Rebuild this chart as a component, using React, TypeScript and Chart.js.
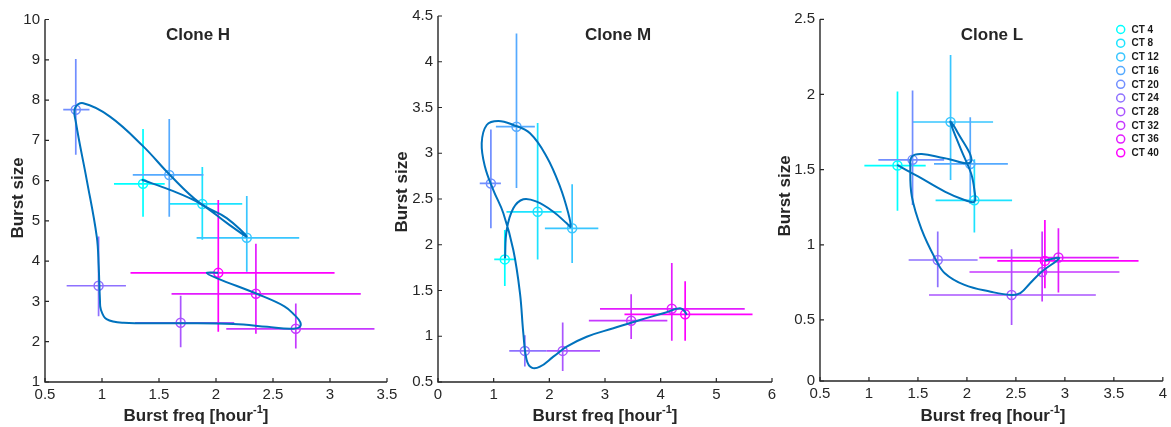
import React, { useEffect, useRef } from "react";
import { Chart, registerables } from "chart.js";

Chart.register(...registerables);

const FONT = "'Liberation Sans', Arial, Helvetica, sans-serif";
const INK = "#262626";
const CURVE_COLOR = "#0072bd";
const W = 1171;
const H = 427;

// ---------- shared ----------
const ctLabels = ["CT 4", "CT 8", "CT 12", "CT 16", "CT 20", "CT 24", "CT 28", "CT 32", "CT 36", "CT 40"];
const ctColors = ["#00ffff", "#1ce3ff", "#39c6ff", "#55aaff", "#718eff", "#8e71ff", "#aa55ff", "#c639ff", "#e31cff", "#ff00ff"];

// ---------- Clone H ----------
const hFreq = [1.36, 1.88, 2.27, 1.59, 0.77, 0.97, 1.69, 2.70, 2.35, 2.02];
const hSize = [5.92, 5.42, 4.58, 6.14, 7.76, 3.39, 2.47, 2.32, 3.19, 3.71];
const hFreqLo = [1.105, 1.59, 1.83, 1.27, 0.66, 0.69, 1.29, 2.09, 1.61, 1.25];
const hFreqHi = [1.55, 2.23, 2.73, 1.89, 0.89, 1.21, 2.16, 3.39, 3.27, 3.04];
const hSizeLo = [5.10, 4.53, 3.74, 5.10, 6.64, 2.63, 1.86, 1.83, 2.20, 2.25];
const hSizeHi = [7.28, 6.34, 5.62, 7.53, 9.02, 4.61, 3.14, 2.95, 4.43, 5.52];
const hCurveX = [1.348, 1.596, 1.860, 2.094, 2.269, 2.094, 1.860, 1.596, 1.362, 1.070, 0.836, 0.763, 0.772, 0.866, 0.954, 0.971, 0.982, 0.99, 1.04, 1.19, 1.684, 2.152, 2.45, 2.65, 2.73, 2.74, 2.69, 2.60, 2.357, 2.006, 1.918, 2.02];
const hCurveY = [6.02, 5.77, 5.43, 4.95, 4.61, 5.07, 5.44, 6.14, 6.85, 7.59, 7.92, 7.80, 7.43, 6.02, 4.61, 3.87, 3.04, 2.80, 2.56, 2.47, 2.46, 2.44, 2.37, 2.32, 2.36, 2.48, 2.66, 2.88, 3.19, 3.58, 3.71, 3.71];
const hXTicks = [0.5, 1, 1.5, 2, 2.5, 3, 3.5];
const hXTickLabels = ["0.5", "1", "1.5", "2", "2.5", "3", "3.5"];
const hYTicks = [1, 2, 3, 4, 5, 6, 7, 8, 9, 10];
const hYTickLabels = ["1", "2", "3", "4", "5", "6", "7", "8", "9", "10"];

// ---------- Clone M ----------
const mFreq = [1.20, 1.79, 2.41, 1.41, 0.95, 1.56, 2.24, 3.47, 4.20, 4.44];
const mSize = [1.84, 2.36, 2.18, 3.29, 2.67, 0.84, 0.84, 1.17, 1.30, 1.24];
const mFreqLo = [1.01, 1.23, 1.92, 1.04, 0.75, 1.28, 1.95, 2.71, 2.91, 3.35];
const mFreqHi = [1.40, 2.22, 2.88, 1.74, 1.13, 1.95, 2.91, 4.12, 5.51, 5.65];
const mSizeLo = [1.55, 1.84, 1.80, 2.62, 2.18, 0.67, 0.62, 0.97, 0.95, 0.95];
const mSizeHi = [2.16, 3.33, 2.66, 4.31, 3.26, 1.01, 1.15, 1.46, 1.80, 1.60];
const mCurveX = [1.204, 1.234, 1.353, 1.533, 1.772, 2.072, 2.312, 2.383, 2.341, 2.192, 1.952, 1.653, 1.353, 1.084, 0.875, 0.785, 0.844, 0.994, 1.174, 1.353, 1.473, 1.533, 1.593, 1.683, 1.832, 2.072, 2.312, 2.671, 3.150, 3.629, 4.048, 4.347, 4.437, 4.467];
const mCurveY = [1.852, 2.161, 2.398, 2.497, 2.471, 2.361, 2.234, 2.197, 2.344, 2.635, 2.962, 3.218, 3.309, 3.352, 3.309, 3.109, 2.853, 2.598, 2.344, 1.943, 1.469, 1.032, 0.740, 0.656, 0.667, 0.777, 0.886, 0.995, 1.087, 1.178, 1.251, 1.305, 1.268, 1.232];
const mXTicks = [0, 1, 2, 3, 4, 5, 6];
const mXTickLabels = ["0", "1", "2", "3", "4", "5", "6"];
const mYTicks = [0.5, 1, 1.5, 2, 2.5, 3, 3.5, 4, 4.5];
const mYTickLabels = ["0.5", "1", "1.5", "2", "2.5", "3", "3.5", "4", "4.5"];

// ---------- Clone L ----------
const lFreq = [1.291, 2.076, 1.833, 2.034, 1.445, 1.702, 2.456, 2.768, 2.934, 2.796];
const lSize = [1.527, 1.296, 1.817, 1.538, 1.565, 0.899, 0.666, 0.819, 0.915, 0.893];
const lFreqLo = [0.953, 1.680, 1.445, 1.664, 1.096, 1.405, 1.613, 2.026, 2.126, 2.310];
const lFreqHi = [1.579, 2.461, 2.267, 2.418, 1.767, 2.109, 3.316, 3.557, 3.551, 3.752];
const lSizeLo = [1.227, 1.081, 1.431, 1.272, 1.265, 0.717, 0.467, 0.622, 0.682, 0.711];
const lSizeHi = [2.019, 1.569, 2.263, 1.849, 2.026, 1.088, 0.970, 1.088, 1.110, 1.165];
const lCurveX = [1.288, 1.506, 1.774, 1.975, 2.076, 2.076, 2.042, 1.941, 1.831, 1.891, 2.042, 1.774, 1.539, 1.438, 1.422, 1.438, 1.539, 1.674, 1.774, 1.975, 2.243, 2.454, 2.545, 2.645, 2.763, 2.941, 2.796];
const lCurveY = [1.531, 1.453, 1.354, 1.298, 1.287, 1.365, 1.476, 1.631, 1.817, 1.764, 1.553, 1.576, 1.604, 1.587, 1.520, 1.320, 1.099, 0.911, 0.811, 0.733, 0.688, 0.666, 0.678, 0.744, 0.821, 0.911, 0.895];
const lXTicks = [0.5, 1, 1.5, 2, 2.5, 3, 3.5, 4];
const lXTickLabels = ["0.5", "1", "1.5", "2", "2.5", "3", "3.5", "4"];
const lYTicks = [0.094, 0.5, 1, 1.5, 2, 2.5];
const lYTickLabels = ["0", "0.5", "1", "1.5", "2", "2.5"];

const X_TITLE = "Burst freq [hour";
const X_TITLE_SUP = "-1";
const X_TITLE_END = "]";
const Y_TITLE = "Burst size";

type Panel = {
  title: string;
  freq: number[]; size: number[];
  freqLo: number[]; freqHi: number[];
  sizeLo: number[]; sizeHi: number[];
  curveX: number[]; curveY: number[];
  xTicks: number[]; xTickLabels: string[];
  yTicks: number[]; yTickLabels: string[];
  area: { l: number; r: number; t: number; b: number };
  titlePos: [number, number];
  xTitleX: number;
  yTitlePos: [number, number];
  legend: boolean;
};

const panels: Panel[] = [
  {
    title: "Clone H",
    freq: hFreq, size: hSize, freqLo: hFreqLo, freqHi: hFreqHi, sizeLo: hSizeLo, sizeHi: hSizeHi,
    curveX: hCurveX, curveY: hCurveY,
    xTicks: hXTicks, xTickLabels: hXTickLabels, yTicks: hYTicks, yTickLabels: hYTickLabels,
    area: { l: 45, r: 387, t: 19.5, b: 382 },
    titlePos: [198, 35], xTitleX: 196, yTitlePos: [18, 198], legend: false,
  },
  {
    title: "Clone M",
    freq: mFreq, size: mSize, freqLo: mFreqLo, freqHi: mFreqHi, sizeLo: mSizeLo, sizeHi: mSizeHi,
    curveX: mCurveX, curveY: mCurveY,
    xTicks: mXTicks, xTickLabels: mXTickLabels, yTicks: mYTicks, yTickLabels: mYTickLabels,
    area: { l: 438, r: 772, t: 16, b: 382 },
    titlePos: [618, 35], xTitleX: 605, yTitlePos: [402, 192], legend: false,
  },
  {
    title: "Clone L",
    freq: lFreq, size: lSize, freqLo: lFreqLo, freqHi: lFreqHi, sizeLo: lSizeLo, sizeHi: lSizeHi,
    curveX: lCurveX, curveY: lCurveY,
    xTicks: lXTicks, xTickLabels: lXTickLabels, yTicks: lYTicks, yTickLabels: lYTickLabels,
    area: { l: 820, r: 1168, t: 19.3, b: 381 },
    titlePos: [992, 35], xTitleX: 993, yTitlePos: [785, 196], legend: true,
  },
];

function makePanelPlugin(p: Panel) {
  return {
    id: "panelDecor",
    beforeDatasetsDraw(chart: any) {
      const { ctx, scales } = chart;
      const x = scales.x, y = scales.y;
      ctx.save();
      ctx.lineWidth = 1.7;
      ctx.lineCap = "butt";
      for (let i = 0; i < p.freq.length; i++) {
        ctx.strokeStyle = ctColors[i];
        const px = x.getPixelForValue(p.freq[i]);
        const py = y.getPixelForValue(p.size[i]);
        ctx.beginPath();
        ctx.moveTo(x.getPixelForValue(p.freqLo[i]), py);
        ctx.lineTo(x.getPixelForValue(p.freqHi[i]), py);
        ctx.moveTo(px, y.getPixelForValue(p.sizeLo[i]));
        ctx.lineTo(px, y.getPixelForValue(p.sizeHi[i]));
        ctx.stroke();
      }
      ctx.restore();
    },
    afterDraw(chart: any) {
      const { ctx, chartArea, scales } = chart;
      const x = scales.x, y = scales.y;
      ctx.save();
      // axes lines
      ctx.strokeStyle = INK;
      ctx.lineWidth = 1.4;
      ctx.beginPath();
      ctx.moveTo(chartArea.left, chartArea.top);
      ctx.lineTo(chartArea.left, chartArea.bottom);
      ctx.lineTo(chartArea.right, chartArea.bottom);
      ctx.stroke();
      // inward ticks
      ctx.lineWidth = 1.2;
      ctx.beginPath();
      for (const v of p.xTicks) {
        const px = x.getPixelForValue(v);
        ctx.moveTo(px, chartArea.bottom);
        ctx.lineTo(px, chartArea.bottom - 4);
      }
      for (const v of p.yTicks) {
        const py = y.getPixelForValue(v);
        ctx.moveTo(chartArea.left, py);
        ctx.lineTo(chartArea.left + 4, py);
      }
      ctx.stroke();

      // panel title
      ctx.fillStyle = INK;
      ctx.font = `bold 17px ${FONT}`;
      ctx.textAlign = "center";
      ctx.textBaseline = "middle";
      ctx.fillText(p.title, p.titlePos[0], p.titlePos[1]);

      // x title with superscript
      const mainFont = `bold 17px ${FONT}`;
      const supFont = `bold 11px ${FONT}`;
      ctx.font = mainFont;
      const w1 = ctx.measureText(X_TITLE).width;
      const w3 = ctx.measureText(X_TITLE_END).width;
      ctx.font = supFont;
      const w2 = ctx.measureText(X_TITLE_SUP).width;
      const total = w1 + w2 + w3;
      let sx = p.xTitleX - total / 2;
      const baseY = 421;
      ctx.textAlign = "left";
      ctx.textBaseline = "alphabetic";
      ctx.font = mainFont;
      ctx.fillText(X_TITLE, sx, baseY);
      sx += w1;
      ctx.font = supFont;
      ctx.fillText(X_TITLE_SUP, sx, baseY - 8);
      sx += w2;
      ctx.font = mainFont;
      ctx.fillText(X_TITLE_END, sx, baseY);

      // y title
      ctx.save();
      ctx.translate(p.yTitlePos[0], p.yTitlePos[1]);
      ctx.rotate(-Math.PI / 2);
      ctx.textAlign = "center";
      ctx.textBaseline = "middle";
      ctx.font = mainFont;
      ctx.fillText(Y_TITLE, 0, 0);
      ctx.restore();

      // legend
      if (p.legend) {
        const metas = chart.data.datasets;
        let row = 0;
        ctx.font = `bold 10px ${FONT}`;
        ctx.textAlign = "left";
        ctx.textBaseline = "middle";
        for (let i = 0; i < metas.length; i++) {
          const ds = metas[i];
          if (!ds.isCT) continue;
          const cy = 29.5 + row * 13.7;
          ctx.strokeStyle = ds.pointBorderColor;
          ctx.lineWidth = 1.5;
          ctx.beginPath();
          ctx.arc(1120.7, cy, 4, 0, Math.PI * 2);
          ctx.stroke();
          ctx.fillStyle = "#1a1a1a";
          ctx.fillText(ds.label, 1131.5, cy + 0.5);
          row++;
        }
      }
      ctx.restore();
    },
  };
}

function makeConfig(p: Panel): any {
  const curve = {
    label: "trajectory",
    data: p.curveX.map((v, i) => ({ x: v, y: p.curveY[i] })),
    showLine: true,
    borderColor: CURVE_COLOR,
    borderWidth: 2,
    pointRadius: 0,
    tension: 0.4,
    fill: false,
    order: 0,
  };
  const points = ctLabels.map((lab, i) => ({
    label: lab,
    isCT: true,
    data: [{ x: p.freq[i], y: p.size[i] }],
    showLine: false,
    pointStyle: "circle",
    pointRadius: 4.5,
    pointBorderWidth: 1.5,
    pointBorderColor: ctColors[i],
    borderColor: ctColors[i],
    pointBackgroundColor: "rgba(0,0,0,0)",
    backgroundColor: "rgba(0,0,0,0)",
    order: 1,
  }));
  const tickFont = { family: FONT, size: 15 };
  return {
    type: "scatter",
    data: { datasets: [curve, ...points] },
    options: {
      animation: false,
      responsive: false,
      events: [],
      layout: { padding: { left: 0, top: p.area.t, right: W - p.area.r, bottom: 0 } },
      plugins: { legend: { display: false }, tooltip: { enabled: false }, title: { display: false } },
      scales: {
        x: {
          type: "linear",
          min: p.xTicks[0],
          max: p.xTicks[p.xTicks.length - 1],
          grid: { display: false, drawTicks: false, tickLength: 0 },
          border: { display: false },
          afterBuildTicks: (s: any) => { s.ticks = p.xTicks.map((v) => ({ value: v })); },
          afterFit: (s: any) => { s.height = H - p.area.b; },
          ticks: {
            font: tickFont, color: INK, padding: 4, maxRotation: 0, autoSkip: false,
            callback: (_v: any, i: number) => p.xTickLabels[i],
          },
        },
        y: {
          type: "linear",
          min: p.yTicks[0],
          max: p.yTicks[p.yTicks.length - 1],
          grid: { display: false, drawTicks: false, tickLength: 0 },
          border: { display: false },
          afterBuildTicks: (s: any) => { s.ticks = p.yTicks.map((v) => ({ value: v })); },
          afterFit: (s: any) => { s.width = p.area.l; },
          ticks: {
            font: tickFont, color: INK, padding: 5, autoSkip: false,
            callback: (_v: any, i: number) => p.yTickLabels[i],
          },
        },
      },
    },
    plugins: [makePanelPlugin(p)],
  };
}

function PanelChart({ panel }: { panel: Panel }) {
  const ref = useRef<HTMLCanvasElement>(null);
  useEffect(() => {
    const chart = new Chart(ref.current as HTMLCanvasElement, makeConfig(panel));
    return () => chart.destroy();
  }, [panel]);
  return (
    <canvas
      ref={ref}
      width={W}
      height={H}
      style={{ position: "absolute", left: 0, top: 0, width: W, height: H }}
    />
  );
}

export default function App() {
  return (
    <div style={{ position: "fixed", left: 0, top: 0, width: W, height: H, background: "#ffffff", overflow: "hidden" }}>
      {panels.map((p) => (
        <PanelChart key={p.title} panel={p} />
      ))}
    </div>
  );
}
